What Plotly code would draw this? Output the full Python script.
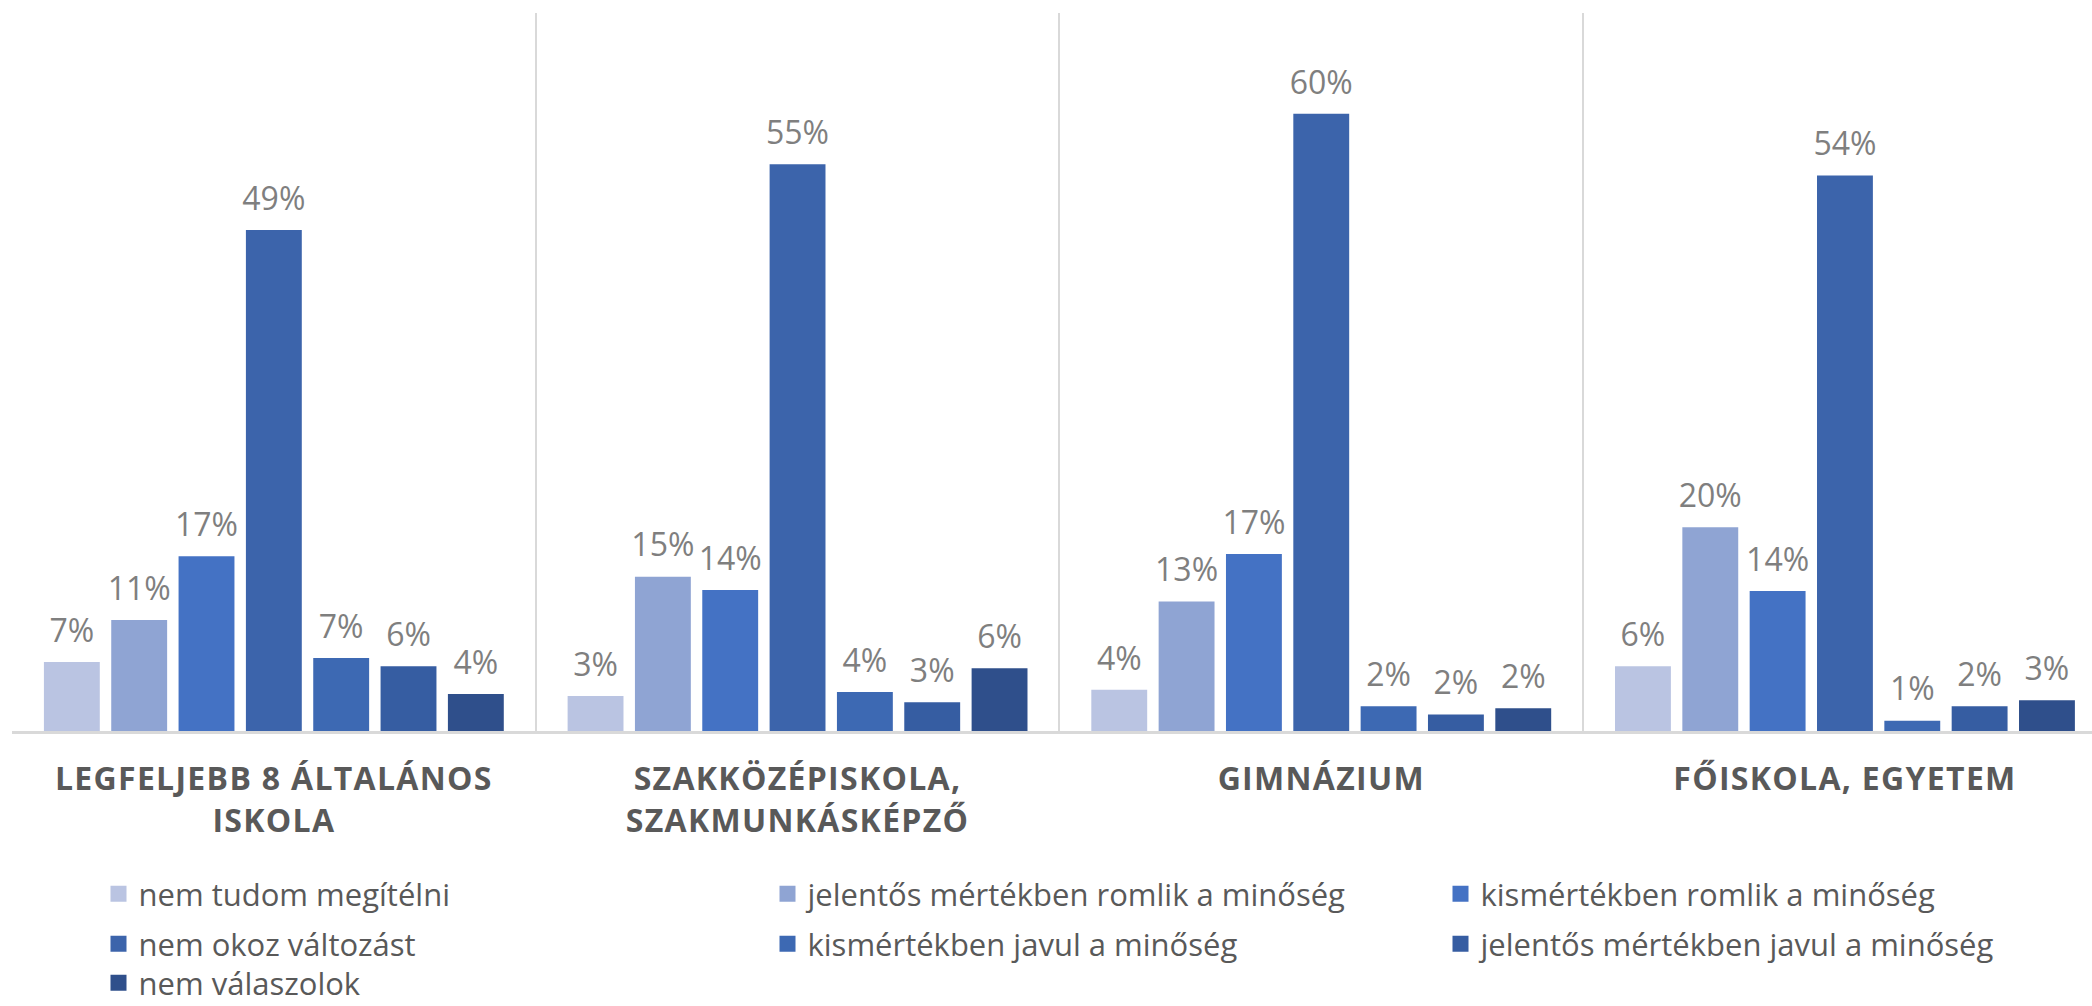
import plotly.graph_objects as go

categories = [
    "LEGFELJEBB 8 ÁLTALÁNOS<br>ISKOLA",
    "SZAKKÖZÉPISKOLA,<br>SZAKMUNKÁSKÉPZŐ",
    "GIMNÁZIUM",
    "FŐISKOLA, EGYETEM",
]

series_names = [
    "nem tudom megítélni",
    "jelentős mértékben romlik a minőség",
    "kismértékben romlik a minőség",
    "nem okoz változást",
    "kismértékben javul a minőség",
    "jelentős mértékben javul a minőség",
    "nem válaszolok",
]

nem_tudom = [6.7, 3.4, 4.0, 6.3]
jelentos_romlik = [10.8, 15.0, 12.6, 19.8]
kis_romlik = [17.0, 13.7, 17.2, 13.6]
nem_okoz = [48.7, 55.1, 60.0, 54.0]
kis_javul = [7.1, 3.8, 2.4, 1.0]
jelentos_javul = [6.3, 2.8, 1.6, 2.4]
nem_valaszol = [3.6, 6.1, 2.2, 3.0]

series_values = [nem_tudom, jelentos_romlik, kis_romlik, nem_okoz,
                 kis_javul, jelentos_javul, nem_valaszol]

colors = ["#BAC4E2", "#8FA4D3", "#4472C4", "#3C64AB", "#3D69B3", "#365DA2", "#2F4F8B"]

W, H = 2092, 1006
ML, MR, MT, MB = 12, 0, 13, 275
plot_w = W - ML - MR
plot_h = H - MT - MB
cat_px = 523.7
GAP = 0.10

fig = go.Figure()
for i, (name, vals, col) in enumerate(zip(series_names, series_values, colors)):
    fig.add_trace(go.Bar(
        x=categories, y=vals, name=name,
        marker=dict(color=col, line=dict(width=0)),
        showlegend=False, hoverinfo="skip",
    ))
for i, (name, vals) in enumerate(zip(series_names, series_values)):
    fig.add_trace(go.Scatter(
        x=categories, y=vals, name=name, mode="markers+text",
        marker=dict(size=18, opacity=0),
        texttemplate="%{y:.0f}%", textposition="top center",
        textfont=dict(family="Open Sans", size=32, color="#7F7F7F"),
        cliponaxis=False, showlegend=False, hoverinfo="skip",
    ))

# legend proxies on a hidden overlay axis, one legend per entry
text_starts = [141, 810, 1483]
row_centers = [894, 944, 983]
legend_layouts = {}
for i, (name, col) in enumerate(zip(series_names, colors)):
    r, c = divmod(i, 3)
    key = "legend" if i == 0 else f"legend{i+1}"
    fig.add_trace(go.Scatter(
        x=[None], y=[None], mode="markers", name=name,
        marker=dict(symbol="square", size=16, color=col),
        legend=key, showlegend=True, xaxis="x2", yaxis="y2",
    ))
    lx = (text_starts[c] - 42.5 - ML) / plot_w
    ly = (MT + plot_h - row_centers[r]) / plot_h
    legend_layouts[key] = dict(
        x=lx, y=ly, xanchor="left", yanchor="middle",
        orientation="h", bgcolor="rgba(0,0,0,0)", borderwidth=0,
        font=dict(family="Open Sans", size=31, color="#595959"),
        itemsizing="trace",
    )

fig.update_layout(
    width=W, height=H,
    margin=dict(l=ML, r=MR, t=MT, b=MB, autoexpand=False),
    paper_bgcolor="white", plot_bgcolor="white",
    barmode="group", bargap=GAP, bargroupgap=0.17,
    scattermode="group", scattergap=GAP,
    xaxis=dict(
        type="category", range=[-0.5, -0.5 + plot_w / cat_px],
        tickson="boundaries", showgrid=True, gridcolor="#D9D9D9", gridwidth=1.5,
        showline=True, linecolor="#D9D9D9", linewidth=2.5,
        ticks="", ticklabelstandoff=18,
        tickfont=dict(family="Open Sans", size=32, color="#595959", weight="bold"),
        zeroline=False, fixedrange=True,
    ),
    yaxis=dict(range=[0, 69.8], visible=False, showgrid=False, zeroline=False),
    xaxis2=dict(overlaying="x", visible=False, range=[0, 1]),
    yaxis2=dict(overlaying="y", visible=False, range=[0, 1]),
    **legend_layouts,
)

post = """
var st = document.createElement('style');
st.textContent = 'html, body { margin: 0; padding: 0; overflow: hidden; } .xtick text { letter-spacing: 1.3px; }';
document.head.appendChild(st);
"""

fig.write_html("out.html", post_script=post, config={"displayModeBar": False})
